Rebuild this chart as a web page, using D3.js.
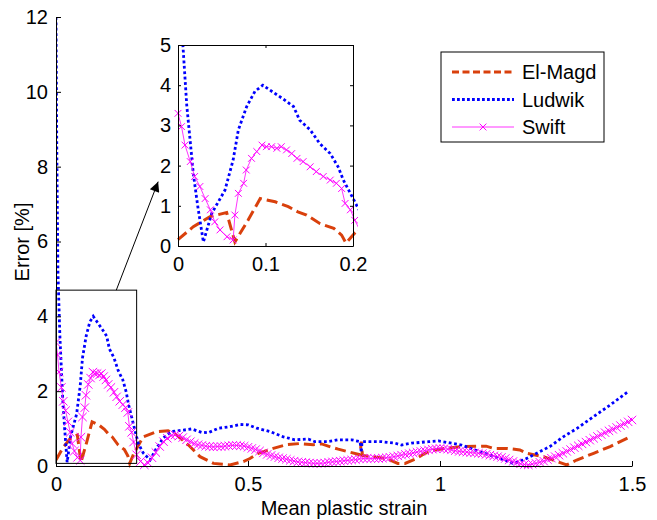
<!DOCTYPE html>
<html>
<head>
<meta charset="utf-8">
<script src="https://cdn.jsdelivr.net/npm/d3@7"></script>
<style>
  body { margin: 0; background: #fff; }
  svg { font-family: "Liberation Sans", Arial, Helvetica, sans-serif; }
</style>
</head>
<body>
<script>
// El-Magd error vs. mean plastic strain
var elMagdStrain = [0, 0.0175, 0.0366, 0.0556, 0.065, 0.08, 0.094, 0.111, 0.126, 0.137, 0.147, 0.162, 0.178, 0.187, 0.192, 0.202,
  0.227, 0.262, 0.292, 0.314, 0.345, 0.375, 0.41, 0.453, 0.488, 0.505, 0.527, 0.566, 0.6, 0.635, 0.67, 0.692, 0.718, 0.735, 0.761,
  0.792, 0.795, 0.798, 0.822, 0.861, 0.89, 0.909, 0.935, 0.961, 0.987, 1.013, 1.056, 1.12, 1.139, 1.174, 1.208, 1.226, 1.269,
  1.313, 1.33, 1.356, 1.4, 1.443, 1.495];
var elMagdError = [0.16, 0.48, 0.73, 0.83, 0.1, 0.64, 1.18, 1.1, 0.98, 0.85, 0.77, 0.56, 0.44, 0.27, 0.07, 0.32,
  0.78, 0.92, 0.94, 0.83, 0.56, 0.25, 0.07, 0.03, 0.12, 0.2, 0.34, 0.47, 0.57, 0.6, 0.57, 0.59, 0.5, 0.45, 0.38,
  0.3, 0.65, 0.28, 0.25, 0.2, 0.07, 0.07, 0.18, 0.34, 0.43, 0.47, 0.52, 0.53, 0.47, 0.47, 0.43, 0.34, 0.25,
  0.09, 0.03, 0.16, 0.34, 0.52, 0.78];

// Ludwik
var ludwikStrain = [0, 0.002, 0.005, 0.01, 0.0175, 0.0225, 0.029, 0.0385, 0.0537, 0.063, 0.069, 0.0785, 0.088, 0.097, 0.105,
  0.122, 0.132, 0.139, 0.151, 0.162, 0.174, 0.183, 0.189, 0.197, 0.202, 0.214, 0.227, 0.245, 0.262, 0.279, 0.301, 0.332,
  0.353, 0.379, 0.397, 0.423, 0.453, 0.479, 0.501, 0.523, 0.557, 0.592, 0.622, 0.657, 0.674, 0.709, 0.735, 0.77, 0.792,
  0.795, 0.797, 0.822, 0.848, 0.883, 0.9, 0.926, 0.97, 0.996, 1.03, 1.056, 1.104, 1.156, 1.19, 1.217, 1.252, 1.286,
  1.321, 1.356, 1.4, 1.443, 1.49];
var ludwikError = [12, 8.5, 5.2, 3.5, 1.8, 1.0, 0.1, 0.81, 1.39, 2.14, 2.89, 3.47, 3.85, 4.0, 3.88,
  3.63, 3.47, 3.13, 2.89, 2.55, 2.3, 1.97, 1.64, 1.31, 1.1, 0.61, 0.35, 0.16, 0.48, 0.75, 0.92, 0.96,
  0.99, 0.9, 0.89, 1.01, 1.05, 1.11, 1.1, 1.01, 0.92, 0.78, 0.7, 0.72, 0.65, 0.65, 0.7, 0.7, 0.65,
  0.36, 0.65, 0.65, 0.65, 0.61, 0.56, 0.61, 0.65, 0.67, 0.61, 0.56, 0.38, 0.2, 0.07, 0.16, 0.34, 0.52,
  0.78, 1.0, 1.32, 1.63, 1.99];

// Swift
var swiftStrain = [0, 0.004, 0.008, 0.014, 0.019, 0.025, 0.031, 0.037, 0.042, 0.048, 0.056, 0.063, 0.065, 0.069, 0.075,
  0.078, 0.084, 0.09, 0.096, 0.101, 0.107, 0.113, 0.118, 0.124, 0.13, 0.136, 0.143, 0.151, 0.158, 0.166, 0.174, 0.181,
  0.187, 0.191, 0.197, 0.202,
  0.21, 0.22, 0.23, 0.24, 0.25, 0.26, 0.27, 0.28, 0.29, 0.30, 0.31, 0.32, 0.33, 0.34, 0.35, 0.36, 0.37, 0.38, 0.39,
  0.40, 0.41, 0.42, 0.43, 0.44, 0.45, 0.46, 0.47, 0.48, 0.49, 0.50, 0.51, 0.52, 0.53, 0.54, 0.55, 0.56, 0.57, 0.58, 0.59,
  0.60, 0.61, 0.62, 0.63, 0.64, 0.65, 0.66, 0.67, 0.68, 0.69, 0.70, 0.71, 0.72, 0.73, 0.74, 0.75, 0.76, 0.77, 0.78, 0.79,
  0.80, 0.81, 0.82, 0.83, 0.84, 0.85, 0.86, 0.87, 0.88, 0.89, 0.90, 0.91, 0.92, 0.93, 0.94, 0.95, 0.96, 0.97, 0.98, 0.99,
  1.00, 1.01, 1.02, 1.03, 1.04, 1.05, 1.06, 1.07, 1.08, 1.09, 1.10, 1.11, 1.12, 1.13, 1.14, 1.15, 1.16, 1.17, 1.18, 1.19,
  1.20, 1.21, 1.22, 1.23, 1.24, 1.25, 1.26, 1.27, 1.28, 1.29, 1.30, 1.31, 1.32, 1.33, 1.34, 1.35, 1.36, 1.37, 1.38, 1.39,
  1.40, 1.41, 1.42, 1.43, 1.44, 1.45, 1.46, 1.47, 1.48, 1.49, 1.50];
var swiftError = [3.3, 2.97, 2.51, 2.1, 1.73, 1.48, 1.18, 0.9, 0.6, 0.4, 0.23, 0.15, 0.77, 1.31, 1.56,
  1.89, 2.18, 2.35, 2.51, 2.47, 2.47, 2.43, 2.47, 2.39, 2.3, 2.18, 2.1, 1.97, 1.85, 1.73, 1.64, 1.56,
  1.43, 1.06, 0.9, 0.64,
  0.3, 0.12, 0.03, 0.08, 0.22, 0.36, 0.52, 0.65, 0.74, 0.81, 0.83, 0.8, 0.76, 0.7, 0.65, 0.6, 0.57, 0.55, 0.53,
  0.52, 0.51, 0.52, 0.52, 0.53, 0.54, 0.55, 0.55, 0.54, 0.53, 0.5, 0.47, 0.44, 0.4, 0.35, 0.31, 0.28, 0.25, 0.22, 0.2,
  0.18, 0.15, 0.13, 0.11, 0.1, 0.09, 0.08, 0.07, 0.07, 0.07, 0.08, 0.1, 0.11, 0.12, 0.13, 0.14, 0.15, 0.16, 0.17, 0.19,
  0.2, 0.2, 0.2, 0.2, 0.2, 0.21, 0.22, 0.23, 0.25, 0.27, 0.29, 0.31, 0.33, 0.35, 0.37, 0.39, 0.41, 0.43, 0.45, 0.46,
  0.47, 0.46, 0.45, 0.43, 0.41, 0.39, 0.38, 0.37, 0.36, 0.35, 0.34, 0.33, 0.31, 0.29, 0.27, 0.25, 0.23, 0.2, 0.16, 0.12,
  0.09, 0.06, 0.04, 0.03, 0.05, 0.07, 0.1, 0.13, 0.17, 0.21, 0.25, 0.29, 0.34, 0.39, 0.44, 0.49, 0.54, 0.59, 0.64, 0.69,
  0.74, 0.79, 0.84, 0.89, 0.94, 0.98, 1.03, 1.08, 1.13, 1.18, 1.23];

var seriesNames = ["El-Magd", "Ludwik", "Swift"];

// ticks
var mainXTicks = [0, 0.5, 1, 1.5];
var mainYTicks = [0, 2, 4, 6, 8, 10, 12];
var insetXTicks = [0, 0.1, 0.2];
var insetYTicks = [0, 1, 2, 3, 4, 5];

// zoom box (drawn in main axes) and arrow
var zoomBox = { x0: 0, x1: 0.21, y0: 0.07, y1: 4.7 };
var arrowFrom = [0.157, 4.7], arrowTo = [0.266, 7.6];

function pairs(xs, ys) {
  return xs.map(function(x, i) { return [x, ys[i]]; });
}
var series = [
  { name: seriesNames[0], data: pairs(elMagdStrain, elMagdError), color: "#d9400c", width: 3, dash: "11,5", legendDash: "7,3.5" },
  { name: seriesNames[1], data: pairs(ludwikStrain, ludwikError), color: "#0000ff", width: 2.8, dash: "2.8,2.6", legendDash: "2.8,2.2" },
  { name: seriesNames[2], data: pairs(swiftStrain, swiftError), color: "#ff00ff", width: 0.8, dash: null, legendDash: null, marker: true }
];

var svg = d3.select("body").append("svg")
  .attr("width", 657)
  .attr("height", 520);

var defs = svg.append("defs");
defs.append("marker")
  .attr("id", "arrowhead")
  .attr("viewBox", "0 0 10 10")
  .attr("refX", 10).attr("refY", 5)
  .attr("markerWidth", 13).attr("markerHeight", 10)
  .attr("markerUnits", "userSpaceOnUse")
  .attr("orient", "auto")
  .append("path").attr("d", "M0,0L10,5L0,10Z").attr("fill", "#000");

function crossPath(r) {
  return "M" + (-r) + "," + (-r) + "L" + r + "," + r + "M" + (-r) + "," + r + "L" + r + "," + (-r);
}

function drawSeries(g, x, y, clipId, markerSize) {
  var line = d3.line().x(function(d) { return x(d[0]); }).y(function(d) { return y(d[1]); });
  var holder = g.append("g").attr("clip-path", "url(#" + clipId + ")");
  series.forEach(function(s) {
    holder.append("path")
      .attr("d", line(s.data))
      .attr("fill", "none")
      .attr("stroke", s.color)
      .attr("stroke-width", s.width)
      .attr("stroke-dasharray", s.dash);
    if (s.marker) {
      holder.selectAll(null)
        .data(s.data)
        .enter().append("path")
        .attr("transform", function(d) { return "translate(" + x(d[0]) + "," + y(d[1]) + ")"; })
        .attr("d", crossPath(markerSize))
        .attr("fill", "none")
        .attr("stroke", s.color)
        .attr("stroke-width", 1);
    }
  });
}

var fontSize = 20;
var fmt = function(d) { return d3.format("")(d); };

/** main axes **/
var x = d3.scaleLinear().domain([0, 1.5]).range([56, 632]);
var y = d3.scaleLinear().domain([0, 12]).range([466, 17]);

defs.append("clipPath").attr("id", "clipMain")
  .append("rect").attr("x", 56).attr("y", 10).attr("width", 590).attr("height", 462);

var main = svg.append("g");
drawSeries(main, x, y, "clipMain", 4.2);

main.append("g")
  .attr("transform", "translate(0,466)")
  .call(d3.axisBottom(x).tickValues(mainXTicks).tickFormat(fmt).tickSize(-5).tickSizeOuter(0).tickPadding(11));
main.append("g")
  .attr("transform", "translate(56,0)")
  .call(d3.axisLeft(y).tickValues(mainYTicks).tickFormat(fmt).tickSize(-5).tickSizeOuter(0).tickPadding(8));

main.selectAll(".tick text").attr("font-size", fontSize).attr("fill", "#000").attr("font-family", null);
main.selectAll(".domain, .tick line").attr("stroke", "#000");

main.append("text")
  .attr("x", 344).attr("y", 515)
  .attr("text-anchor", "middle")
  .attr("font-size", fontSize)
  .text("Mean plastic strain");
main.append("text")
  .attr("transform", "translate(29,242)rotate(-90)")
  .attr("text-anchor", "middle")
  .attr("font-size", fontSize)
  .text("Error [%]");

// zoom box + arrow
main.append("rect")
  .attr("x", x(zoomBox.x0)).attr("y", y(zoomBox.y1))
  .attr("width", x(zoomBox.x1) - x(zoomBox.x0))
  .attr("height", y(zoomBox.y0) - y(zoomBox.y1))
  .attr("fill", "none").attr("stroke", "#000").attr("stroke-width", 1);
main.append("line")
  .attr("x1", x(arrowFrom[0])).attr("y1", y(arrowFrom[1]))
  .attr("x2", x(arrowTo[0])).attr("y2", y(arrowTo[1]))
  .attr("stroke", "#000").attr("stroke-width", 1)
  .attr("marker-end", "url(#arrowhead)");

/** inset axes **/
var xi = d3.scaleLinear().domain([0, 0.2]).range([178, 353]);
var yi = d3.scaleLinear().domain([0, 5]).range([246, 45]);

defs.append("clipPath").attr("id", "clipInset")
  .append("rect").attr("x", 174).attr("y", 45).attr("width", 184).attr("height", 204);

var inset = svg.append("g");
inset.append("rect")
  .attr("x", 178).attr("y", 45).attr("width", 175).attr("height", 201)
  .attr("fill", "#fff");
drawSeries(inset, xi, yi, "clipInset", 3.4);

inset.append("g").attr("transform", "translate(0,246)")
  .call(d3.axisBottom(xi).tickValues(insetXTicks).tickFormat(fmt).tickSize(-3).tickSizeOuter(0).tickPadding(11));
inset.append("g").attr("transform", "translate(178,0)")
  .call(d3.axisLeft(yi).tickValues(insetYTicks).tickFormat(fmt).tickSize(-3).tickSizeOuter(0).tickPadding(7));
inset.append("g").attr("transform", "translate(0,45)")
  .call(d3.axisTop(xi).tickValues(insetXTicks).tickFormat("").tickSize(-3).tickSizeOuter(0));
inset.append("g").attr("transform", "translate(353,0)")
  .call(d3.axisRight(yi).tickValues(insetYTicks).tickFormat("").tickSize(-3).tickSizeOuter(0));
inset.selectAll(".tick text").attr("font-size", fontSize).attr("fill", "#000").attr("font-family", null);
inset.selectAll(".domain, .tick line").attr("stroke", "#000");

/** legend **/
var legend = svg.append("g").attr("transform", "translate(441,52)");
legend.append("rect")
  .attr("width", 163).attr("height", 90)
  .attr("fill", "#fff").attr("stroke", "#000").attr("stroke-width", 1);
var item = legend.selectAll("g.item")
  .data(series)
  .enter().append("g")
  .attr("class", "item")
  .attr("transform", function(d, i) { return "translate(0," + (20 + i * 27.5) + ")"; });
item.append("line")
  .attr("x1", 11).attr("x2", 73)
  .attr("stroke", function(d) { return d.color; })
  .attr("stroke-width", function(d) { return d.width; })
  .attr("stroke-dasharray", function(d) { return d.legendDash; });
item.filter(function(d) { return d.marker; })
  .append("path")
  .attr("transform", "translate(42,0)")
  .attr("d", crossPath(3.4))
  .attr("fill", "none")
  .attr("stroke", function(d) { return d.color; })
  .attr("stroke-width", 1);
item.append("text")
  .attr("x", 81).attr("y", 0).attr("dy", "0.35em")
  .attr("font-size", fontSize)
  .text(function(d) { return d.name; });
</script>
</body>
</html>
